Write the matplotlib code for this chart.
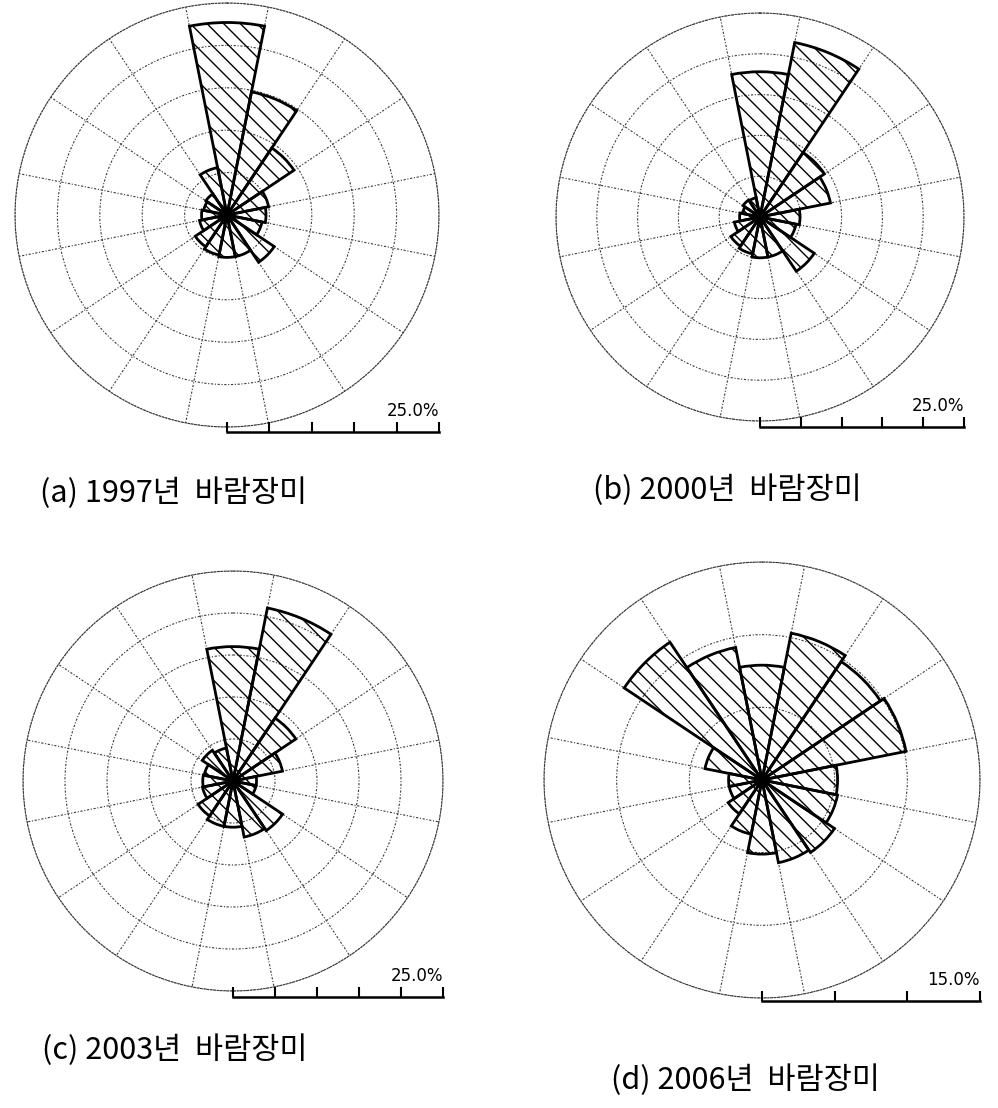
import numpy as np
import matplotlib.pyplot as plt

plt.rcParams['font.family'] = ['Noto Sans CJK KR', 'DejaVu Sans']
plt.rcParams['hatch.linewidth'] = 1.0

# 16방위 (N부터 시계방향)
directions = ['N', 'NNE', 'NE', 'ENE', 'E', 'ESE', 'SE', 'SSE',
              'S', 'SSW', 'SW', 'WSW', 'W', 'WNW', 'NW', 'NNW']

# 방위별 풍향 빈도 (%)
freq_1997 = [22.7, 14.8, 9.5, 5.0, 4.6, 4.2, 6.7, 5.0, 5.0, 4.8, 4.5, 3.3, 3.0, 2.8, 3.0, 5.7]
freq_2000 = [17.8, 21.8, 9.5, 8.8, 4.9, 4.5, 8.0, 5.0, 5.0, 4.6, 4.3, 3.2, 2.5, 2.2, 2.5, 2.4]
freq_2003 = [16.0, 21.0, 9.0, 6.0, 2.8, 2.8, 7.1, 6.8, 5.5, 5.5, 5.0, 3.7, 3.6, 3.5, 4.4, 4.0]
freq_2006 = [7.9, 10.3, 9.8, 10.1, 5.2, 5.3, 6.0, 5.8, 5.1, 3.8, 2.8, 2.3, 2.3, 4.0, 11.4, 9.3]

captions = ['(a) 1997년  바람장미', '(b) 2000년  바람장미',
            '(c) 2003년  바람장미', '(d) 2006년  바람장미']
scale_max = [25, 25, 25, 15]

W, H = 998, 1108
fig = plt.figure(figsize=(W / 100, H / 100), dpi=100)

# 패널 위치 (픽셀): 중심 x, 중심 y, 반지름, 스케일바 y, 캡션 x, 캡션 y
layout = [
    (227, 215, 212, 432, 174, 493),
    (760, 217, 204, 427, 727, 490),
    (233, 781, 210, 997, 175, 1050),
    (762, 780, 218, 1001, 745, 1080),
]

theta = np.deg2rad(np.arange(16) * 22.5)
width = np.deg2rad(22.5)
grid_style = dict(color='#3a3a3a', linestyle=(0, (2, 1.5, 1, 1.5)), linewidth=0.8)

for vals, cap, rmax, (cx, cy, r, ybar, tx, ty) in zip(
        [freq_1997, freq_2000, freq_2003, freq_2006], captions, scale_max, layout):
    ax = fig.add_axes([(cx - r) / W, 1 - (cy + r) / H, 2 * r / W, 2 * r / H],
                      projection='polar')
    ax.set_theta_zero_location('N')
    ax.set_theta_direction(-1)
    ax.bar(theta, vals, width=width, bottom=0, facecolor='none',
           edgecolor='black', linewidth=2, hatch='\\\\', zorder=3)
    ax.scatter([0], [0], s=70, color='black', zorder=4)
    ax.set_ylim(0, rmax)
    ax.set_yticks(np.arange(5, rmax + 1, 5))
    ax.set_yticklabels([])
    ax.set_xticks(np.deg2rad(11.25 + 22.5 * np.arange(16)))
    ax.set_xticklabels([])
    ax.grid(True, **grid_style)
    ax.spines['polar'].set_color(grid_style['color'])
    ax.spines['polar'].set_linestyle(grid_style['linestyle'])
    ax.spines['polar'].set_linewidth(grid_style['linewidth'])

    # 축척 막대
    sax = fig.add_axes([cx / W, 1 - ybar / H, r / W, 12 / H])
    sax.set_xlim(0, rmax)
    sax.set_ylim(0, 1)
    sax.patch.set_alpha(0)
    for s in ['top', 'left', 'right']:
        sax.spines[s].set_visible(False)
    sax.spines['bottom'].set_linewidth(1.8)
    sax.set_xticks(np.arange(0, rmax + 1, 5))
    sax.set_xticklabels([])
    sax.set_yticks([])
    sax.tick_params(axis='x', direction='in', length=7, width=1.5)
    sax.text(1.0, 1.0, f'{rmax:.1f}%', transform=sax.transAxes, ha='right',
             va='bottom', fontsize=12, family='DejaVu Sans')

    fig.text(tx / W, 1 - ty / H, cap, ha='center', va='center', fontsize=22)

fig.savefig('out.png', dpi=100, facecolor='white')
